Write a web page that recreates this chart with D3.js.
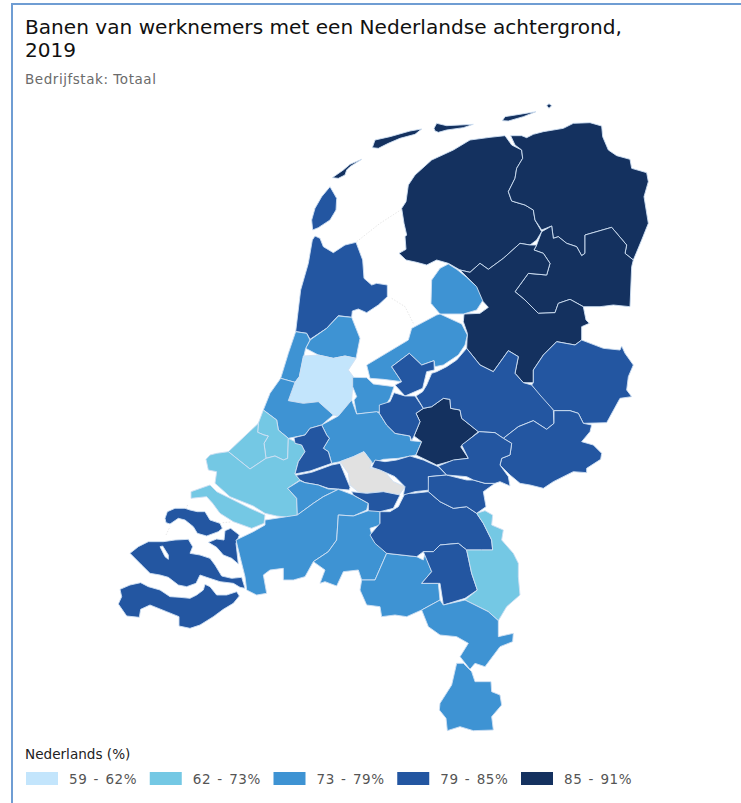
<!DOCTYPE html>
<html><head><meta charset="utf-8">
<script src="https://cdn.jsdelivr.net/npm/d3@7/dist/d3.min.js"></script>
<style>html,body{margin:0;padding:0;background:#fff}svg{display:block}</style>
</head><body><div id="chart"></div>
<script>
// Outlines were traced on crops of the picture; each helper brings one crop onto a common 3x map grid.
const shift = (dx, dy) => p => p.map(([x, y]) => [x + dx, y + dy]);
const A = shift(0, 0), B = shift(-510, 870), C = shift(240, 870), Z = shift(-510, 1200),
      H = shift(-270, 930), N = shift(-30, 420), F = shift(180, 660), I = shift(60, 15);

const titleLines = ["Banen van werknemers met een Nederlandse achtergrond,", "2019"];
const subtitle = "Bedrijfstak: Totaal";
const legendTitle = "Nederlands (%)";
const classBreaks = [62, 73, 79, 85];
const classLabels = ["59 - 62%", "62 - 73%", "73 - 79%", "79 - 85%", "85 - 91%"];
const classColours = ["#c3e5fc", "#74c8e4", "#3e93d3", "#2356a1", "#14315f"];
const noDataColour = "#e1e1e1";

const regionNames = ["Texel", "Vlieland", "Terschelling", "Ameland", "Schiermonnikoog", "Rottumeroog",
  "Friesland", "Groningen", "Noord- en Zuidoost-Drenthe", "Zuidwest-Drenthe en Noord-Overijssel",
  "Noordoostpolder", "Flevoland", "Noordwest-Veluwe", "Kop van Noord-Holland", "Zaanstreek en Waterland",
  "IJmond en Haarlem", "Groot-Amsterdam", "Het Gooi", "Utrecht", "Leiden en Bollenstreek",
  "Agglomeratie 's-Gravenhage", "Delft en Westland", "Groot-Rijnmond", "Oost-Zuid-Holland",
  "Midden-Holland", "Drechtsteden", "Voorne-Flakkee", "Schouwen-Duiveland", "Tholen",
  "Walcheren en Beveland", "Zeeuws-Vlaanderen", "West-Noord-Brabant", "Midden-Noord-Brabant",
  "Zuidoost-Noord-Brabant", "Noordoost-Noord-Brabant", "Helmond-Peel", "Noord-Limburg", "Midden-Limburg",
  "Zuid-Limburg", "Rivierenland Noord", "Rivierenland", "Nijmegen", "Land van Heusden", "Arnhem",
  "West-Veluwe", "Noord-Veluwe", "Twente", "Achterhoek", "Arnhem-Oost"];
const regionShares = [82, 88, 88, 88, 88, 88,
  88, 88, 88, 88,
  76, 76, 82, 82, 76,
  76, 60, 76, 76, 76,
  68, 68, 68, 82,
  82, 76, 68, 82, 82,
  82, 82, 76, 76,
  76, 82, 82, 68, 76,
  76, null, 82, 82, 82, 88,
  82, 82, 82, 82, 82];
const regionOutlines = [
  [I([[90,275],[110,310],[108,345],[90,375],[55,398],[38,405],[35,375],[45,340],[65,305]])],
  [I([[97,248],[130,225],[150,208],[185,193],[150,215],[140,225],[135,240],[115,250]])],
  [I([[217,158],[225,135],[270,125],[330,108],[365,102],[345,118],[300,130],[265,145],[235,160]])],
  [I([[402,100],[410,85],[440,92],[520,88],[490,98],[440,105],[415,112],[405,108]])],
  [I([[607,77],[615,65],[708,50],[670,65],[625,78]])],
  [I([[740,32],[747,26],[755,32],[747,40]])],
  [I([[615,122],[570,127],[510,135],[460,165],[395,195],[345,240],[325,270],[318,320],[305,340],[312,385],[320,420]]).concat(A([[375,440],[378,478],[357,490],[378,510],[410,517],[440,525],[470,510],[505,520],[540,540],[570,547],[600,520],[625,538],[670,505],[720,460],[750,465],[770,450],[785,425],[765,390],[760,360],[735,345],[695,333],[685,305],[705,265],[710,235],[728,205],[725,180],[695,165]]))],
  [A([[692,137],[725,137],[740,143],[760,133],[790,125],[850,115],[880,100],[930,98],[965,108],[968,140],[985,180],[1010,197],[1050,208],[1055,235],[1100,248],[1105,275],[1092,320],[1105,400],[1085,450],[1060,510],[1035,490],[1040,465],[995,412],[915,435],[915,490],[905,497],[890,470],[860,460],[835,440],[820,445],[815,408],[785,420],[765,390],[760,360],[735,345],[695,333],[685,305],[705,265],[710,235],[728,205],[725,180],[705,165]])],
  [A([[785,425],[815,408],[820,445],[835,440],[860,460],[890,470],[905,497],[915,490],[915,435],[995,412],[1040,465],[1035,490],[1060,510],[1055,530],[1050,650],[1000,645],[960,650],[910,650],[870,628],[835,640],[825,668],[775,670],[735,630],[705,605],[745,550],[800,555],[810,520],[790,490],[762,480],[770,465]])],
  [A([[720,460],[750,465],[770,465],[762,480],[790,490],[810,520],[800,555],[745,550],[705,605],[735,630],[775,670],[825,668],[835,640],[870,628],[910,650],[918,690],[928,700],[905,710],[905,750],[885,765],[830,755],[790,795],[760,840],[760,878],[730,878],[705,850],[715,800],[685,782],[665,810],[640,845],[600,825],[560,775],[562,730],[550,695],[552,672],[600,670],[625,652],[605,630],[585,585],[540,540],[570,547],[600,520],[625,538],[670,505]])],
  [A([[505,522],[480,535],[455,570],[453,640],[480,672],[550,672],[590,660],[608,632],[590,590],[560,562],[530,538]])],
  [F([[300,12],[365,42],[382,75],[375,105],[355,135],[310,165],[285,170],[282,152],[245,165],[208,130],[155,170],[185,215],[130,208],[90,205],[80,165],[205,90],[215,55],[290,15]])],
  [F([[155,170],[208,130],[245,165],[282,152],[283,180],[260,185],[248,235],[195,258],[165,225],[185,215]])],
  [N([[127,30],[135,18],[150,25],[160,50],[190,68],[225,45],[258,37],[278,90],[282,145],[305,165],[320,160],[352,165],[352,200],[325,225],[290,248],[265,237],[247,243],[245,262],[205,257],[170,295],[120,328],[110,310],[77,305],[92,180],[115,100]])],
  [N([[120,330],[170,295],[205,258],[245,262],[270,325],[258,385],[225,378],[190,385],[145,375],[107,355]])],
  [N([[77,305],[110,310],[120,330],[107,355],[100,385],[88,440],[75,457],[32,445],[55,370]])],
  [N([[100,378],[145,375],[190,385],[225,378],[258,385],[235,420],[250,440],[245,510],[205,558],[190,555],[145,515],[100,520],[55,512],[75,457],[88,440]])],
  [N([[248,442],[290,443],[310,462],[372,470],[360,505],[335,545],[260,552],[252,510],[260,500],[248,470]])],
  [N([[205,558],[245,510],[260,552]]).concat(F([[110,305],[118,310],[140,345],[165,370],[210,378],[212,392],[245,395],[228,435],[175,445],[130,448],[95,460],[72,425],[40,440],[0,455]]), H([[425,190],[415,155],[400,145],[418,115],[410,105],[395,75]]))],
  [N([[32,445],[75,457],[55,512],[100,520],[145,515],[190,555]]).concat(H([[395,75],[360,85],[345,105],[295,115],[265,90],[260,60],[220,30]]), A([[-30,910]]))],
  [H([[220,30],[260,60],[265,90],[295,115],[293,175],[280,180],[255,168],[228,175],[222,130],[235,108],[222,105],[203,97],[205,70]])],
  [H([[115,155],[205,70],[203,97],[222,105],[235,108],[222,130],[228,175],[180,207]])],
  [H([[48,178],[60,165],[80,160],[115,155],[180,207],[228,175],[255,168],[280,180],[293,175],[295,115],[335,135],[345,155],[325,185],[315,222],[330,240],[293,265],[320,295],[322,345],[295,352],[260,348],[225,340],[190,318],[120,290],[75,250],[80,215],[55,210]])],
  [H([[312,113],[345,105],[360,85],[395,75],[410,105],[418,115],[400,145],[415,155],[425,190],[360,213],[315,222],[325,185],[345,155],[335,135],[315,130]])],
  [H([[318,226],[365,217],[425,195],[450,190],[480,262],[478,270],[415,265],[385,255],[345,248],[330,240]])],
  [H([[293,265],[330,242],[345,248],[385,255],[415,267],[445,268],[400,290],[370,310],[322,345],[320,295]])],
  [H([[3,275],[60,255],[80,275],[120,295],[180,325],[225,345],[222,370],[185,385],[130,365],[90,340],[68,310],[50,290],[3,295]])],
  [Z([[165,85],[172,65],[195,55],[225,55],[240,60],[262,65],[285,65],[300,90],[330,100],[337,115],[325,125],[290,138],[262,130],[250,110],[225,90],[205,85],[180,102],[168,98]])],
  [Z([[295,157],[320,147],[342,150],[345,122],[362,115],[388,135],[378,160],[385,222],[365,205],[340,195],[320,172]])],
  [Z([[60,190],[85,170],[115,155],[160,155],[195,150],[235,148],[248,170],[240,190],[270,195],[300,205],[315,225],[335,258],[365,265],[395,262],[405,295],[390,292],[370,280],[330,275],[290,262],[270,255],[258,280],[230,290],[205,285],[175,262],[150,255],[120,250],[95,225]]), Z([[150,170],[158,168],[175,195],[175,208],[165,200]])],
  [Z([[30,298],[60,285],[92,278],[115,290],[150,300],[180,320],[210,322],[240,325],[260,315],[280,300],[285,283],[300,290],[320,315],[350,315],[380,305],[388,318],[370,340],[340,358],[310,380],[270,405],[240,415],[207,408],[207,380],[170,365],[120,345],[92,358],[88,382],[50,378],[25,342],[35,320]])],
  [B([[378,480],[430,455],[465,435],[465,420],[530,410]]).concat(H([[322,345],[370,310],[400,290],[445,268]]), B([[730,345],[775,370],[770,390],[730,408],[685,405],[680,480],[655,515],[610,545],[585,590],[550,600],[520,600],[520,565],[480,570],[460,585],[470,640],[440,645],[410,630],[405,590],[390,530]]))],
  [B([[685,405],[730,408],[775,392],[810,392],[810,435],[780,445],[790,480],[830,520],[795,600],[755,600],[745,570],[700,575],[680,618],[645,605],[630,610],[645,570],[610,545],[655,515],[680,480]])],
  [C([[80,520],[170,530],[190,540],[195,520],[215,575],[185,610],[235,610],[240,660],[185,690],[140,710],[105,705],[65,710],[60,680],[20,675],[0,630],[5,600],[45,600]])],
  [C([[30,465],[60,430],[60,395],[90,395],[115,380],[135,340],[160,340],[205,335],[240,365],[280,385],[320,380],[350,400],[370,430],[395,480],[398,510],[365,510],[320,510],[295,490],[240,495],[220,515],[190,515],[170,530],[80,520],[45,490]])],
  [C([[190,515],[220,515],[240,495],[295,490],[320,510],[335,580],[352,630],[315,655],[250,675],[240,610],[185,610],[215,575]])],
  [C([[350,400],[375,392],[398,405],[395,435],[430,450],[425,480],[460,520],[475,550],[475,590],[480,645],[440,680],[415,722],[385,695],[315,660],[352,630],[335,580],[320,510],[365,510],[398,510],[395,480],[370,430]])],
  [C([[185,690],[240,660],[250,675],[315,660],[385,695],[415,722],[415,770],[460,760],[458,785],[420,800],[375,860],[345,850],[330,868],[300,830],[325,790],[290,770],[240,765],[205,740]])],
  [C([[290,850],[310,850],[335,875],[345,905],[393,905],[395,935],[420,945],[425,975],[395,1010],[400,1050],[340,1052],[300,1040],[262,1052],[258,1015],[238,990],[240,970],[275,915]])],
  [F([[0,455],[40,440],[72,425],[95,455],[90,475],[130,480],[160,515],[195,530],[175,558],[120,545],[60,550],[30,525],[25,490]])],
  [C([[35,262],[45,240],[75,245],[110,240],[150,228],[190,240],[235,260],[260,285],[205,290],[210,330],[165,335],[130,345],[135,320],[105,290],[60,270]])],
  [C([[205,290],[260,285],[320,300],[340,300],[375,310],[405,310],[370,335],[378,380],[350,400],[320,380],[280,385],[240,365],[205,335]])],
  [B([[725,335],[770,340],[820,335],[870,345],[850,385],[810,395],[775,392],[775,370],[730,345]])],
  [F([[228,310],[250,295],[275,290],[310,265],[330,268],[332,295],[360,300],[365,325],[415,365],[362,410],[385,445],[345,450],[290,465],[228,435],[245,395],[222,378],[240,335]])],
  [F([[118,285],[150,275],[162,248],[195,258],[225,258],[250,295],[228,310],[240,335],[222,378],[215,392],[210,378],[165,370],[140,345],[118,310]])],
  [A([[560,775],[600,825],[640,845],[665,810],[685,782],[715,800],[705,850],[730,878],[755,885],[790,920],[820,960],[822,1000],[800,1018],[760,992],[715,1010],[670,1045],[645,1028]]).concat(F([[415,365],[365,325],[360,300],[332,295],[330,268],[310,265],[275,290],[250,295],[228,258],[248,245],[260,225],[275,190],[290,185],[320,170],[350,150]]))],
  [A([[760,878],[760,840],[790,795],[830,755],[885,765],[905,750],[970,775],[1020,780],[1025,768],[1035,790],[1060,825],[1045,860],[1040,900],[1055,920],[1020,925],[980,998],[910,1000],[895,970],[870,962],[822,962],[780,915],[755,885]])],
  [C([[430,175],[475,140],[520,122],[560,148],[582,130],[582,92],[630,92],[655,100],[670,130],[695,135],[690,155],[665,185],[700,195],[725,220],[722,238],[680,265],[680,278],[640,275],[580,305],[550,325],[510,315],[480,310],[450,285],[420,255],[425,235],[450,225],[455,190]])],
  [C([[358,155],[405,158],[430,175],[455,190],[450,225],[425,235],[420,255],[445,290],[450,318],[420,305],[405,310],[375,310],[340,300],[320,290],[260,285],[235,258],[280,240],[325,235],[305,195]])]
];
const waterLines = [
  A([[365,358],[300,400],[230,455]]),
  A([[335,625],[375,650],[400,700]]),
  Z([[233,45],[225,58]]),
  Z([[168,135],[180,110]]),
  Z([[338,98],[362,96]])
];

const width = 741, height = 803;
const svg = d3.select("#chart").append("svg").attr("width", width).attr("height", height);
const font = "'DejaVu Sans', sans-serif";

svg.append("path").attr("d", d3.line()([[12, 803], [12, 4], [741, 4]]))
  .attr("fill", "none").attr("stroke", "#6f9dd3").attr("stroke-width", 2);

svg.selectAll("text.title").data(titleLines).join("text").attr("class", "title")
  .attr("x", 25).attr("y", (d, i) => 34 + i * 23)
  .attr("font-family", font).attr("font-size", 20.1).attr("fill", "#111").text(d => d);
svg.append("text").attr("x", 25).attr("y", 84).attr("font-family", font)
  .attr("font-size", 13.5).attr("letter-spacing", 0.55).attr("fill", "#6b6b6b").text(subtitle);

const colour = d3.scaleThreshold().domain(classBreaks).range(classColours);
const projection = d3.geoIdentity().scale(1 / 3).translate([280, 90]);
const path = d3.geoPath(projection);

svg.append("g").selectAll("path").data(regionNames).join("path")
  .attr("d", (d, i) => path({type: "Polygon", coordinates: regionOutlines[i].map(r => r.concat([r[0]]))}))
  .attr("fill", (d, i) => regionShares[i] == null ? noDataColour : colour(regionShares[i]))
  .attr("fill-rule", "evenodd")
  .attr("stroke", "#cfe0f3").attr("stroke-width", 0.9).attr("stroke-linejoin", "round")
  .append("title").text(d => d);

svg.append("g").selectAll("path").data(waterLines).join("path")
  .attr("d", d => path({type: "LineString", coordinates: d}))
  .attr("fill", "none").attr("stroke", "#dcdcdc").attr("stroke-width", 0.7).attr("stroke-dasharray", "1.5 1.5");

svg.append("text").attr("x", 25).attr("y", 759).attr("font-family", font)
  .attr("font-size", 13.6).attr("fill", "#222").text(legendTitle);
const legendX = d3.scalePoint().domain(classLabels).range([26, 521]);
const legend = svg.append("g").selectAll("g").data(classLabels).join("g")
  .attr("transform", d => `translate(${legendX(d)},772)`);
legend.append("rect").attr("width", 32).attr("height", 13).attr("fill", (d, i) => classColours[i]);
legend.append("text").attr("x", 43).attr("y", 11.5).attr("font-family", font)
  .attr("font-size", 13.5).attr("letter-spacing", 0.55).attr("word-spacing", 1.5).attr("fill", "#555").text(d => d);
</script></body></html>
